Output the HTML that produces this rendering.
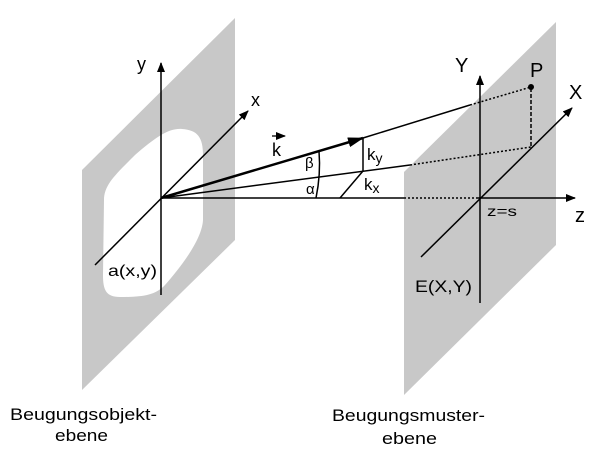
<!DOCTYPE html>
<html><head><meta charset="utf-8"><style>
html,body{margin:0;padding:0;background:#fff;}
svg{display:block;font-family:"Liberation Sans",sans-serif;}
</style></head><body>
<svg width="610" height="451" viewBox="0 0 610 451" xmlns="http://www.w3.org/2000/svg">
<defs>
<marker id="ar" markerWidth="10" markerHeight="8" refX="9" refY="4" orient="auto" markerUnits="userSpaceOnUse">
<path d="M0,0 L10,4 L0,8 Z" fill="#000"/></marker>
<marker id="ar2" markerWidth="16" markerHeight="10" refX="15" refY="5" orient="auto" markerUnits="userSpaceOnUse">
<path d="M0,0 L16,5 L0,10 Z" fill="#000"/></marker>
</defs>
<polygon points="82,170 235,18 235,240 82,390" fill="#c8c8c8"/>
<path d="M104,200 C104,185 115,175 135,155 C155,138 168,128 182,129 C198,130 203,138 203,155 L203,220 C202,240 180,268 165,285 C155,296 140,297 120,297 C106,297 103,290 103,275 Z" fill="#fff"/>
<polygon points="404,172 556,22 556,245 404,395" fill="#c8c8c8"/>
<line x1="161" y1="295" x2="161" y2="63" stroke="#000" stroke-width="1.5" marker-end="url(#ar)"/>
<line x1="95" y1="265" x2="248" y2="111" stroke="#000" stroke-width="1.5" marker-end="url(#ar)"/>
<line x1="161" y1="198" x2="404" y2="198" stroke="#000" stroke-width="1.5"/>
<line x1="404" y1="198" x2="478" y2="198" stroke="#000" stroke-width="1.5" stroke-dasharray="2,2"/>
<line x1="478" y1="198" x2="575" y2="198" stroke="#000" stroke-width="1.5" marker-end="url(#ar)"/>
<line x1="480" y1="303" x2="480" y2="76" stroke="#000" stroke-width="1.5" marker-end="url(#ar)"/>
<line x1="421" y1="257" x2="572" y2="108" stroke="#000" stroke-width="1.5" marker-end="url(#ar)"/>
<line x1="161" y1="198" x2="363" y2="138" stroke="#000" stroke-width="2.5" marker-end="url(#ar2)"/>
<line x1="363" y1="138" x2="470" y2="105" stroke="#000" stroke-width="1.5"/>
<line x1="470" y1="105" x2="531" y2="87" stroke="#000" stroke-width="1.5" stroke-dasharray="2,2"/>
<line x1="161" y1="198" x2="410" y2="165" stroke="#000" stroke-width="1.5"/>
<line x1="410" y1="165" x2="531" y2="147" stroke="#000" stroke-width="1.5" stroke-dasharray="2,2"/>
<line x1="531" y1="88" x2="531" y2="147" stroke="#000" stroke-width="1.5" stroke-dasharray="4,2"/>
<circle cx="531" cy="87" r="3" fill="#000"/>
<line x1="363" y1="138" x2="363" y2="171" stroke="#000" stroke-width="1.5"/>
<line x1="340" y1="198" x2="363" y2="171" stroke="#000" stroke-width="1.5"/>
<path d="M319,151 A165,165 0 0 1 316,198" fill="none" stroke="#000" stroke-width="1.5"/>
<g font-size="18" fill="#000">
<text x="137" y="70">y</text>
<text x="251" y="106">x</text>
<text x="108" y="276" font-size="16" textLength="49" lengthAdjust="spacingAndGlyphs">a(x,y)</text>
<text x="272" y="156">k</text>
<text x="305" y="168" font-size="15">β</text>
<text x="306" y="194" font-size="15">α</text>
<text x="367" y="160" font-size="17">k<tspan font-size="14" dy="3">y</tspan></text>
<text x="364" y="190" font-size="17">k<tspan font-size="14" dy="3">x</tspan></text>
<text x="455" y="72" font-size="20">Y</text>
<text x="530" y="77" font-size="20">P</text>
<text x="569" y="99" font-size="20">X</text>
<text x="487" y="216" font-size="14" textLength="30" lengthAdjust="spacingAndGlyphs">z=s</text>
<text x="575" y="222" font-size="20">z</text>
<text x="415" y="292" font-size="17" textLength="57" lengthAdjust="spacingAndGlyphs">E(X,Y)</text>
<text x="10" y="420" font-size="17" textLength="147" lengthAdjust="spacingAndGlyphs">Beugungsobjekt-</text>
<text x="55" y="441" font-size="17" textLength="53" lengthAdjust="spacingAndGlyphs">ebene</text>
<text x="332" y="421" font-size="17" textLength="153" lengthAdjust="spacingAndGlyphs">Beugungsmuster-</text>
<text x="382" y="444" font-size="17" textLength="55" lengthAdjust="spacingAndGlyphs">ebene</text>
</g>
<line x1="272" y1="136" x2="285" y2="136" stroke="#000" stroke-width="1.3" marker-end="url(#ar)"/>
</svg>
</body></html>
